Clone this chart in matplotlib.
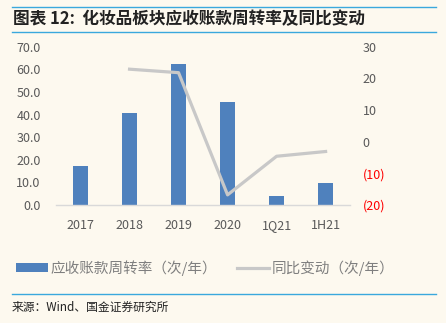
import matplotlib.pyplot as plt
from matplotlib.lines import Line2D
from matplotlib.patches import Patch

plt.rcParams['font.family'] = ['Noto Sans CJK SC', 'DejaVu Sans']

categories = ["2017", "2018", "2019", "2020", "1Q21", "1H21"]
turnover = [17.2, 40.5, 62.3, 45.4, 3.8, 9.7]
yoy_x = ["2018", "2019", "2020", "1Q21", "1H21"]
yoy = [22.9, 21.8, -16.8, -4.6, -3.1]

left_ticks = [0, 10, 20, 30, 40, 50, 60, 70]
right_ticks = [-20, -10, 0, 10, 20, 30]
right_labels = ["(20)", "(10)", "0", "10", "20", "30"]

bg = "#FDF9EF"
bar_color = "#4F81BD"
line_color = "#C8C8C8"
tick_color = "#595959"
rule_color = "#3AA8DD"

fig = plt.figure(figsize=(4.46, 3.23), dpi=100, facecolor=bg)
ax = fig.add_axes([0.1256, 0.3653, 0.6594, 0.4901])
ax.set_facecolor(bg)

x = list(range(len(categories)))
ax.bar(x, turnover, width=0.31, color=bar_color, zorder=2)
ax.set_xlim(-0.5, len(categories) - 0.5)
ax.set_ylim(0, 70)
ax.set_yticks(left_ticks)
ax.set_yticklabels([f"{v:.1f}" for v in left_ticks])
ax.set_xticks(x)
ax.set_xticklabels(categories)
ax.tick_params(axis="both", length=0, colors=tick_color, labelsize=9)
ax.tick_params(axis="x", pad=10)
ax.tick_params(axis="y", pad=11)
for s in ["top", "right", "left"]:
    ax.spines[s].set_visible(False)
ax.spines["bottom"].set_color("#D9D9D9")
ax.spines["bottom"].set_linewidth(1.0)

ax2 = ax.twinx()
ax2.plot([categories.index(c) for c in yoy_x], yoy, color=line_color, lw=2.3, zorder=3)
ax2.set_ylim(-20, 30)
ax2.set_yticks(right_ticks)
ax2.set_yticklabels(right_labels)
ax2.tick_params(axis="y", length=0, colors=tick_color, labelsize=9, pad=9)
for lbl, v in zip(ax2.get_yticklabels(), right_ticks):
    if v < 0:
        lbl.set_color("#FF0000")
for s in ax2.spines.values():
    s.set_visible(False)

# title and rules
fig.add_artist(Line2D([12 / 446, 436 / 446], [1 - 7 / 323, 1 - 7 / 323], color=rule_color, lw=1.0))
fig.add_artist(Line2D([12 / 446, 436 / 446], [1 - 32 / 323, 1 - 32 / 323], color=rule_color, lw=1.0))
fig.add_artist(Line2D([12 / 446, 436 / 446], [1 - 294 / 323, 1 - 294 / 323], color=rule_color, lw=1.0))
fig.text(13 / 446, 1 - 19 / 323, "图表 12:  化妆品板块应收账款周转率及同比变动", fontsize=12,
         fontweight="bold", color="#222222", va="center", ha="left")
fig.text(12 / 446, 1 - 307 / 323, "来源：Wind、国金证券研究所", fontsize=8.5,
         color="#222222", va="center", ha="left")

handles = [Patch(facecolor=bar_color, edgecolor="none"),
           Line2D([0], [0], color=line_color, lw=2.3)]
labels = ["应收账款周转率（次/年）", "同比变动（次/年）"]
fig.legend(handles, labels, loc="center", bbox_to_anchor=(0.46, 1 - 268 / 323), ncol=2,
           frameon=False, fontsize=10.5, labelcolor="#7F7F7F", handlelength=2.2,
           handleheight=0.6, handletextpad=0.2, columnspacing=1.3)

fig.savefig("out.png", dpi=100, facecolor=bg)
